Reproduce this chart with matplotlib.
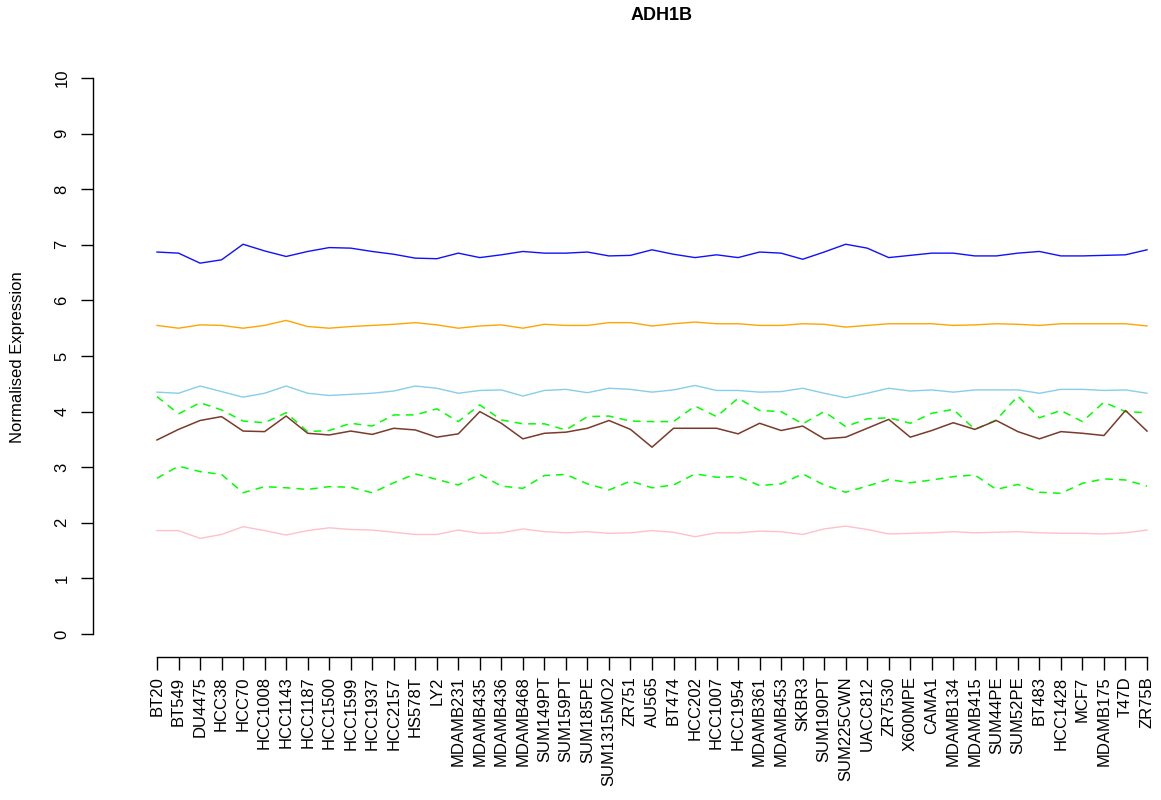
# System Modules
import matplotlib.pyplot as plt
import numpy             as np

##===============================================================================
# Data

cellLines  = ["BT20", "BT549", "DU4475", "HCC38", "HCC70", "HCC1008", "HCC1143", "HCC1187",
              "HCC1500", "HCC1599", "HCC1937", "HCC2157", "HS578T", "LY2", "MDAMB231",
              "MDAMB435", "MDAMB436", "MDAMB468", "SUM149PT", "SUM159PT", "SUM185PE",
              "SUM1315MO2", "ZR751", "AU565", "BT474", "HCC202", "HCC1007", "HCC1954",
              "MDAMB361", "MDAMB453", "SKBR3", "SUM190PT", "SUM225CWN", "UACC812", "ZR7530",
              "X600MPE", "CAMA1", "MDAMB134", "MDAMB415", "SUM44PE", "SUM52PE", "BT483",
              "HCC1428", "MCF7", "MDAMB175", "T47D", "ZR75B"]

blueExpr   = [6.87, 6.85, 6.67, 6.73, 7.01, 6.89, 6.79, 6.88, 6.95, 6.94, 6.88, 6.83,
              6.76, 6.75, 6.85, 6.77, 6.82, 6.88, 6.85, 6.85, 6.87, 6.80, 6.81, 6.91,
              6.83, 6.77, 6.82, 6.77, 6.87, 6.85, 6.74, 6.87, 7.01, 6.94, 6.77, 6.81,
              6.85, 6.85, 6.80, 6.80, 6.85, 6.88, 6.80, 6.80, 6.81, 6.82, 6.91]

orangeExpr = [5.55, 5.50, 5.56, 5.55, 5.50, 5.55, 5.64, 5.53, 5.50, 5.53, 5.55, 5.57,
              5.60, 5.56, 5.50, 5.54, 5.56, 5.50, 5.57, 5.55, 5.55, 5.60, 5.60, 5.54,
              5.58, 5.61, 5.58, 5.58, 5.55, 5.55, 5.58, 5.57, 5.52, 5.55, 5.58, 5.58,
              5.58, 5.55, 5.56, 5.58, 5.57, 5.55, 5.58, 5.58, 5.58, 5.58, 5.54]

skyExpr    = [4.35, 4.33, 4.46, 4.36, 4.26, 4.33, 4.46, 4.33, 4.29, 4.31, 4.33, 4.37,
              4.46, 4.42, 4.33, 4.38, 4.39, 4.28, 4.38, 4.40, 4.34, 4.42, 4.40, 4.35,
              4.39, 4.47, 4.38, 4.38, 4.35, 4.36, 4.42, 4.33, 4.25, 4.33, 4.42, 4.37,
              4.39, 4.35, 4.39, 4.39, 4.39, 4.33, 4.40, 4.40, 4.38, 4.39, 4.33]

greenHigh  = [4.27, 3.96, 4.16, 4.03, 3.83, 3.80, 3.98, 3.64, 3.66, 3.79, 3.74, 3.94,
              3.94, 4.05, 3.82, 4.12, 3.85, 3.78, 3.78, 3.67, 3.91, 3.92, 3.83, 3.82,
              3.82, 4.10, 3.91, 4.24, 4.02, 4.00, 3.78, 4.00, 3.73, 3.87, 3.89, 3.79,
              3.97, 4.04, 3.68, 3.85, 4.28, 3.89, 4.02, 3.82, 4.17, 4.00, 3.98]

brownExpr  = [3.49, 3.68, 3.84, 3.91, 3.65, 3.64, 3.92, 3.61, 3.58, 3.65, 3.59, 3.70,
              3.67, 3.54, 3.60, 4.00, 3.79, 3.51, 3.61, 3.63, 3.70, 3.84, 3.68, 3.36,
              3.70, 3.70, 3.70, 3.60, 3.79, 3.66, 3.74, 3.51, 3.54, 3.70, 3.86, 3.54,
              3.66, 3.80, 3.68, 3.84, 3.64, 3.51, 3.64, 3.61, 3.57, 4.02, 3.65]

greenLow   = [2.80, 3.02, 2.92, 2.87, 2.54, 2.65, 2.63, 2.60, 2.65, 2.64, 2.54, 2.72,
              2.88, 2.78, 2.68, 2.87, 2.66, 2.62, 2.85, 2.87, 2.70, 2.59, 2.75, 2.63,
              2.68, 2.88, 2.82, 2.83, 2.67, 2.70, 2.88, 2.68, 2.55, 2.66, 2.78, 2.72,
              2.77, 2.83, 2.86, 2.60, 2.69, 2.55, 2.53, 2.71, 2.79, 2.77, 2.66]

pinkExpr   = [1.86, 1.86, 1.72, 1.79, 1.93, 1.86, 1.78, 1.86, 1.91, 1.88, 1.87, 1.83,
              1.79, 1.79, 1.87, 1.81, 1.82, 1.89, 1.84, 1.82, 1.84, 1.81, 1.82, 1.86,
              1.83, 1.75, 1.82, 1.82, 1.85, 1.84, 1.79, 1.89, 1.94, 1.88, 1.80, 1.81,
              1.82, 1.84, 1.82, 1.83, 1.84, 1.82, 1.81, 1.81, 1.80, 1.82, 1.87]

##===============================================================================
# Plot

plt.rcParams['font.family'] = ['Liberation Sans', 'DejaVu Sans']

fig = plt.figure(figsize=(11.61, 8), dpi=100)
W, H = 1161.0, 800.0

# Axes box in pixels: left spine at x=93, x-axis at y=657, top at y=70
ax = fig.add_axes([93/W, 1 - 657/H, (1161 - 93)/W, (657 - 70)/H])

x   = np.arange(len(cellLines))
pxX = 990.0 / (len(cellLines) - 1)
pxY = 55.6

ax.plot(x, blueExpr,   color="#1010FF", lw=1.0)
ax.plot(x, orangeExpr, color="#FFA500", lw=1.0)
ax.plot(x, skyExpr,    color="#87CEEB", lw=1.0)
ax.plot(x, greenHigh,  color="#00FF00", lw=1.1, dashes=(5, 4))
ax.plot(x, greenLow,   color="#00FF00", lw=1.1, dashes=(5, 4))
ax.plot(x, brownExpr,  color="#7A3B2B", lw=1.1)
ax.plot(x, pinkExpr,   color="#FFC0CB", lw=1.0)

# Map data limits so ticks land on the same pixel grid
ax.set_xlim(-(157 - 93) / pxX, len(cellLines) - 1 + (1161 - 1147) / pxX)
ax.set_ylim(-(657 - 634) / pxY, 10 + (78 - 70) / pxY)

# Detached, R-style axes
for side in ["top", "right"]:
    ax.spines[side].set_visible(False)
ax.spines["left"].set_bounds(0, 10)
ax.spines["bottom"].set_bounds(0, len(cellLines) - 1)
ax.spines["left"].set_linewidth(1.0)
ax.spines["bottom"].set_linewidth(1.0)

ax.set_yticks(range(0, 11))
ax.set_yticklabels([str(v) for v in range(0, 11)], rotation=90, va="center", fontsize=12)
ax.set_xticks(x)
ax.set_xticklabels(cellLines, rotation=90, fontsize=12)
ax.tick_params(axis="both", length=9, width=1.0)
ax.tick_params(axis="y", pad=8)
ax.tick_params(axis="x", pad=5)

fig.text(18/W, 1 - 357/H, "Normalised Expression", rotation=90, ha="center", va="center",
         fontsize=12)
fig.text(662/W, 1 - 15/H, "ADH1B", ha="center", va="center", fontsize=13, fontweight="bold")

plt.savefig("out.png", dpi=100)
